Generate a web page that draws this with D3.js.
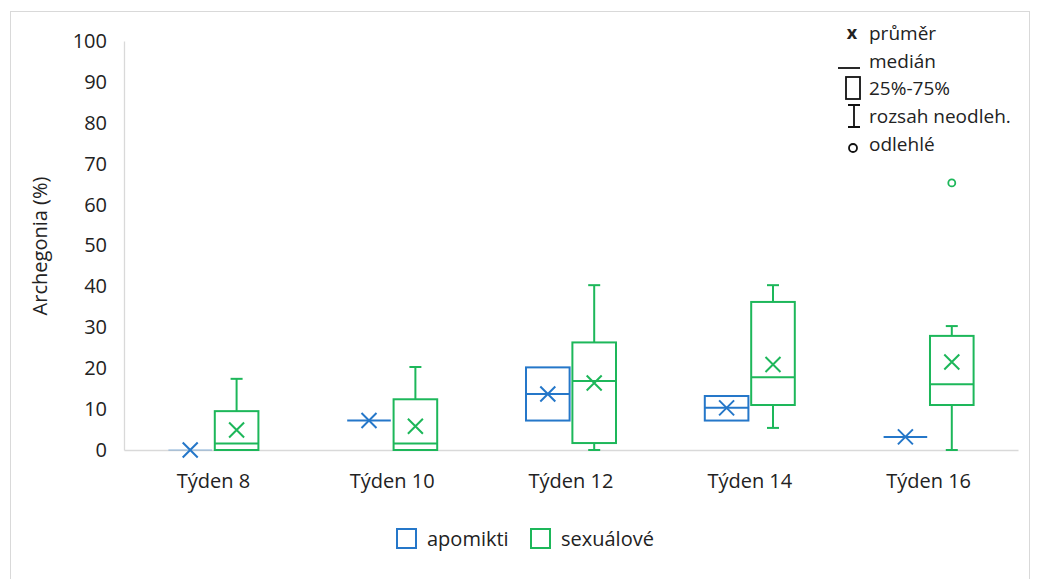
<!DOCTYPE html>
<html>
<head>
<meta charset="utf-8">
<script src="https://cdn.jsdelivr.net/npm/d3@7"></script>
<style>
  body { margin: 0; background: #fff; }
  text { font-family: "Open Sans", sans-serif; fill: #222; }
</style>
</head>
<body>
<svg width="1037" height="579"></svg>
<script>
var weeks = ["Týden 8", "Týden 10", "Týden 12", "Týden 14", "Týden 16"];
var series = ["apomikti", "sexuálové"];
var colors = ["#2577c9", "#1db75a"];

// apomikti
var apoMin  = [0, 7.2, 7.2, 7.2, 3.2];
var apoQ1   = [0, 7.2, 7.2, 7.2, 3.2];
var apoMed  = [0, 7.2, 13.7, 10.3, 3.2];
var apoQ3   = [0, 7.2, 20.2, 13.2, 3.2];
var apoMax  = [0, 7.2, 20.2, 13.2, 3.2];
var apoMean = [0, 7.2, 13.7, 10.3, 3.2];
var apoOut  = [[], [], [], [], []];

// sexuálové
var sexMin  = [0, 0, 0, 5.4, 0];
var sexQ1   = [0, 0, 1.7, 11.0, 11.0];
var sexMed  = [1.6, 1.6, 16.9, 17.8, 16.1];
var sexQ3   = [9.5, 12.4, 26.3, 36.2, 27.9];
var sexMax  = [17.4, 20.3, 40.3, 40.3, 30.3];
var sexMean = [4.9, 5.8, 16.4, 20.9, 21.5];
var sexOut  = [[], [], [], [], [65.3]];

var yTicks = [0, 10, 20, 30, 40, 50, 60, 70, 80, 90, 100];

var svg = d3.select("svg");

// chart frame
svg.append("rect")
    .attr("x", 10.5).attr("y", 11.5)
    .attr("width", 1019).attr("height", 580)
    .attr("fill", "none").attr("stroke", "#d9d9d9");

var x0 = d3.scaleBand().domain(weeks).range([124, 1018]);
var x1 = d3.scaleBand().domain(series).range([x0.bandwidth() / 2 - 45, x0.bandwidth() / 2 + 45]).paddingInner(0.06);
var y = d3.scaleLinear().domain([0, 100]).range([450, 41]);

// y axis
var yAxis = svg.append("g")
    .attr("transform", "translate(124,0)")
    .call(d3.axisLeft(y).tickValues(yTicks).tickSize(0).tickPadding(17));
yAxis.select(".domain").attr("stroke", "#d9d9d9").attr("stroke-width", 1.3);
yAxis.selectAll("text").style("font-size", "20px").attr("fill", "#222")
    .style("font-family", "'Open Sans', sans-serif");

// x axis
var xAxis = svg.append("g")
    .attr("transform", "translate(0,450)")
    .call(d3.axisBottom(x0).tickSize(0).tickPadding(24));
xAxis.select(".domain").attr("stroke", "#d9d9d9").attr("stroke-width", 1.3);
xAxis.selectAll("text").style("font-size", "20px").attr("fill", "#222")
    .style("font-family", "'Open Sans', sans-serif");

svg.append("text")
    .attr("transform", "translate(40,246) rotate(-90)")
    .attr("text-anchor", "middle")
    .attr("dy", "0.35em")
    .style("font-size", "20px")
    .text("Archegonia (%)");

var data = [];
weeks.forEach(function(w, i) {
    data.push({week: w, s: series[0], c: colors[0], min: apoMin[i], q1: apoQ1[i], med: apoMed[i], q3: apoQ3[i], max: apoMax[i], mean: apoMean[i], out: apoOut[i]});
    data.push({week: w, s: series[1], c: colors[1], min: sexMin[i], q1: sexQ1[i], med: sexMed[i], q3: sexQ3[i], max: sexMax[i], mean: sexMean[i], out: sexOut[i]});
});

var bw = x1.bandwidth();

var box = svg.append("g").selectAll("g")
    .data(data)
    .enter().append("g")
    .attr("transform", function(d) {
        return "translate(" + (x0(d.week) + x1(d.s)) + ",0)";
    })
    .attr("stroke", function(d) { return d.c; })
    .attr("stroke-width", 2)
    .attr("fill", "none");

// whiskers
box.append("line")
    .attr("x1", bw / 2).attr("x2", bw / 2)
    .attr("y1", function(d) { return y(d.q3); })
    .attr("y2", function(d) { return y(d.max); });
box.append("line")
    .attr("x1", bw / 2).attr("x2", bw / 2)
    .attr("y1", function(d) { return y(d.q1); })
    .attr("y2", function(d) { return y(d.min); });
box.filter(function(d) { return d.max > d.q3; }).append("line")
    .attr("x1", bw / 2 - 6).attr("x2", bw / 2 + 6)
    .attr("y1", function(d) { return y(d.max); })
    .attr("y2", function(d) { return y(d.max); });
box.filter(function(d) { return d.min < d.q1; }).append("line")
    .attr("x1", bw / 2 - 6).attr("x2", bw / 2 + 6)
    .attr("y1", function(d) { return y(d.min); })
    .attr("y2", function(d) { return y(d.min); });

// box
box.append("rect")
    .attr("x", 0).attr("width", bw)
    .attr("y", function(d) { return y(d.q3); })
    .attr("height", function(d) { return y(d.q1) - y(d.q3); })
    .attr("stroke-opacity", function(d) { return d.q3 == 0 ? 0.25 : 1; });

// median
box.append("line")
    .attr("x1", 0).attr("x2", bw)
    .attr("y1", function(d) { return y(d.med); })
    .attr("y2", function(d) { return y(d.med); })
    .attr("stroke-opacity", function(d) { return d.med == 0 ? 0.25 : 1; });

// mean
box.append("path")
    .attr("transform", function(d) { return "translate(" + (bw / 2) + "," + y(d.mean) + ")"; })
    .attr("d", "M-7.5,-7.5L7.5,7.5M-7.5,7.5L7.5,-7.5");

// outliers
box.selectAll("circle")
    .data(function(d) { return d.out; })
    .enter().append("circle")
    .attr("cx", bw / 2)
    .attr("cy", function(v) { return y(v); })
    .attr("r", 3.5)
    .attr("stroke-width", 1.8);

// bottom legend
var leg = svg.append("g").selectAll("g")
    .data(series)
    .enter().append("g")
    .attr("transform", function(d, i) { return "translate(" + [397, 531][i] + ",529)"; });
leg.append("rect")
    .attr("width", 19).attr("height", 19)
    .attr("fill", "none")
    .attr("stroke", function(d, i) { return colors[i]; })
    .attr("stroke-width", 2);
leg.append("text")
    .attr("x", 30).attr("y", 10).attr("dy", "0.35em")
    .style("font-size", "20px")
    .text(function(d) { return d; });

// key in the top-right corner
var keyLabels = ["průměr", "medián", "25%-75%", "rozsah neodleh.", "odlehlé"];
var keyY = [33, 61, 88, 116, 144];
var key = svg.append("g");
key.selectAll("text.lbl")
    .data(keyLabels)
    .enter().append("text")
    .attr("class", "lbl")
    .attr("x", 869)
    .attr("y", function(d, i) { return keyY[i]; })
    .attr("dy", "0.35em")
    .style("font-size", "19px")
    .text(function(d) { return d; });
key.append("text")
    .attr("x", 852).attr("y", keyY[0]).attr("dy", "0.35em")
    .attr("text-anchor", "middle")
    .style("font-size", "18px").style("font-weight", "bold")
    .text("x");
var kg = key.append("g").attr("stroke", "#111").attr("stroke-width", 1.8).attr("fill", "none");
kg.append("line").attr("x1", 838).attr("x2", 860).attr("y1", keyY[1] + 7).attr("y2", keyY[1] + 7);
kg.append("rect").attr("x", 846).attr("y", keyY[2] - 11).attr("width", 14).attr("height", 22);
kg.append("path").attr("d", "M848," + (keyY[3] - 11) + "H860M854," + (keyY[3] - 11) + "V" + (keyY[3] + 11) + "M848," + (keyY[3] + 11) + "H860");
kg.append("circle").attr("cx", 853).attr("cy", keyY[4] + 4).attr("r", 4);
</script>
</body>
</html>
